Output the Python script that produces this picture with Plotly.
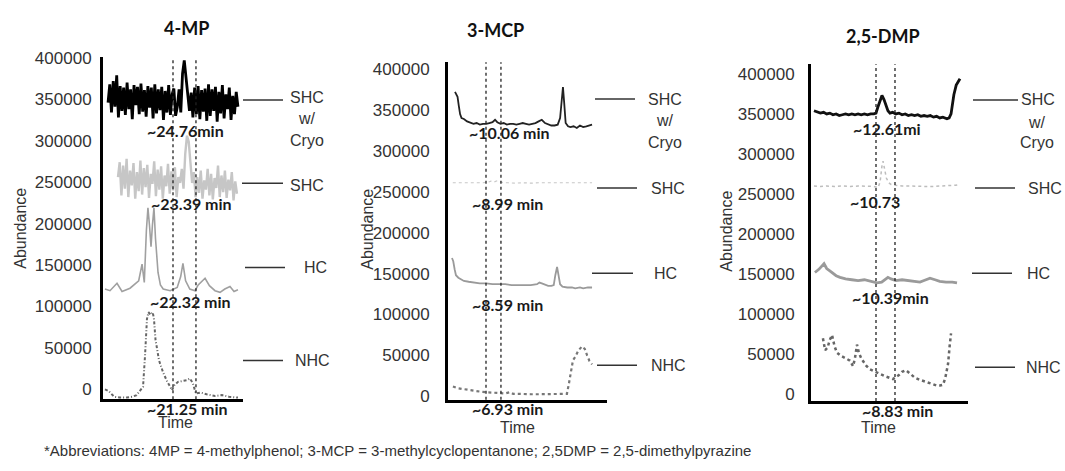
import numpy as np
import plotly.graph_objects as go

# ---------------- data (abundance in thousands, time in relative units 0-100) ----------------
TICK_VALS = [0, 50, 100, 150, 200, 250, 300, 350, 400]
TICK_TEXT = ["0", "50000", "100000", "150000", "200000", "250000", "300000", "350000", "400000"]

# Panel 1: 4-MP
mp4_cryo = [346, 368, 334, 372, 341, 379, 328, 366, 336, 364, 331, 370, 338, 362, 326, 367, 343, 365,
            332, 369, 335, 361, 329, 366, 340, 364, 327, 368, 333, 362, 337, 365, 325, 360, 334, 367,
            331, 356, 363, 330, 341, 362, 334, 381, 397, 374, 351, 336, 358, 328, 364, 332, 366, 326,
            361, 335, 363, 324, 368, 330, 362, 336, 365, 323, 359, 333, 367, 327, 356, 338, 364, 325,
            354, 332, 359, 341]
mp4_cryo_span = [3.6, 96.4]
mp4_shc = [256, 274, 234, 270, 242, 278, 232, 264, 246, 273, 230, 262, 239, 276, 235, 267, 244, 271,
           231, 260, 248, 275, 233, 265, 241, 269, 230, 258, 245, 272, 236, 263, 240, 268, 232, 256,
           249, 266, 242, 284, 306, 299, 274, 249, 262, 232, 256, 237, 264, 230, 252, 241, 266, 234,
           260, 229, 255, 243, 270, 232, 258, 238, 264, 231, 253, 240, 262, 228, 251, 236]
mp4_shc_span = [10.7, 95.7]
mp4_hc_t = [1.4, 5, 10, 13.6, 19.3, 23, 25.5, 27.9, 29.5, 31, 32.1, 33.2, 34.3, 35.3, 36.4, 37.5, 39.3,
            41, 43, 48, 53, 55.5, 57.1, 59, 62, 65.7, 68, 72.9, 76, 80, 83.6, 87, 90.7, 93.6, 96.4]
mp4_hc = [121, 119, 128, 118, 122, 127, 131, 151, 129, 192, 219, 198, 172, 198, 219, 182, 141,
          126, 121, 119, 123, 136, 152, 131, 121, 119, 126, 134, 125, 119, 117, 121, 124, 118, 120]
mp4_nhc_t = [1.4, 4, 8, 12, 17, 21, 24, 26.5, 28.6, 30, 31.4, 32.5, 34, 35.5, 36.4, 37.5, 40, 43, 45.7,
             49.3, 51, 53.6, 57, 60, 62, 64, 66.4, 70, 74, 80, 85, 90, 96.4]
mp4_nhc = [0, -2, -9, -10, -10, -9, -7, -2, 3, 40, 85, 93, 90, 93, 85, 60, 35, 20, 10,
           -1, 5, 9, 10, 11, 13, 8, -5, -4, -6, -8, -7, -9, -10]
mp4_windows = [50.0, 66.4]

# Panel 2: 3-MCP
mcp_cryo_t = [4.4, 5.2, 6, 6.8, 7.6, 8.5, 10, 12, 14, 16, 18, 20, 22, 24, 26, 28, 29.6, 31, 33, 35, 37,
              39, 41, 43, 45, 47, 49, 51, 53, 55, 57, 59, 61, 63, 65, 67, 69, 70.5, 71.5, 72.3, 73.1,
              74, 75.5, 77, 79, 81, 83, 85, 87, 89, 90.6]
mcp_cryo = [372, 368, 366, 355, 345, 340, 339, 336, 334, 333, 334, 332, 333, 333, 334, 335, 338, 335,
            333, 334, 332, 333, 333, 332, 333, 334, 333, 332, 333, 334, 336, 338, 334, 332, 331, 331,
            332, 340, 360, 378, 358, 334, 330, 329, 330, 328, 331, 329, 330, 331, 332]
mcp_shc_t = [3, 8, 13, 18, 22, 25, 27, 29, 31, 33, 35, 38, 42, 47, 52, 57, 62, 67, 72, 77, 82, 87, 90.6]
mcp_shc = [261, 261, 260.5, 261, 261, 261.5, 263, 262, 263.5, 262, 261, 261, 260.5, 261, 260.5, 261,
           261, 260.5, 261, 261, 260.5, 261, 261]
mcp_hc_t = [2.5, 3.3, 4.2, 5, 6.5, 8, 10, 13, 16, 20, 24, 28, 32, 36, 40, 44, 48, 52, 56, 57.5, 59, 61,
            63, 65, 66.5, 67.5, 68.6, 69.5, 70.5, 72, 75, 78, 80, 83, 85, 88, 90.6]
mcp_hc = [169, 165, 155, 148, 145, 143, 141, 140, 139, 138, 138, 137, 137, 137, 136, 136, 136, 136,
          137, 139, 138, 136, 135, 135, 136, 148, 158, 148, 137, 134, 133, 133, 132, 133, 132, 133, 133]
mcp_nhc_t = [3.1, 6, 9, 12, 15, 18, 21, 24, 27, 30, 33, 36, 39, 41, 44, 48, 52, 56, 60, 64, 68, 72,
             74.8, 76, 77.5, 78.6, 80, 82, 84.3, 86, 87.5, 89, 90.6]
mcp_nhc = [12, 10, 9, 8, 7.5, 6.5, 5.5, 5, 4.5, 4, 4, 3.5, 5, 3, 3, 2.5, 2.5, 2.5, 2.5, 2.5, 2.5, 2.5,
           3, 15, 35, 44, 48, 56, 61, 58, 50, 43, 39]
mcp_windows = [23.9, 33.3]

# Panel 3: 2,5-DMP
dmp_cryo_t = [1.9, 4, 6, 8, 10, 12, 14, 16, 18, 20, 22, 24, 26, 28, 30, 32, 34, 36, 38, 40, 41.4, 42.5,
              43.7, 45.2, 46.5, 48, 49, 50.3, 52, 54, 56, 58, 60, 62, 64, 66, 68, 70, 72, 74, 76, 78,
              80, 82, 84, 86.6, 88, 89.2, 90, 91, 92.5, 93.8, 94.9]
dmp_cryo = [354, 352, 351, 352, 350, 351, 349, 350, 348, 349, 350, 349, 350, 349, 350, 349, 350, 349,
            350, 350, 351, 358, 366, 373, 368, 360, 354, 351, 352, 350, 351, 349, 350, 348, 349, 348,
            349, 347, 348, 347, 348, 346, 347, 345, 346, 344, 345, 350, 360, 374, 386, 391, 394]
dmp_shc_t = [1.9, 6, 10, 15, 20, 25, 30, 35, 40, 42.7, 44, 45.2, 45.9, 46.7, 48, 49.5, 51, 54, 58, 63,
             68, 73, 78, 83, 88, 92, 94.9]
dmp_shc = [260, 259.5, 260, 259.5, 260, 259.5, 260, 259.5, 259.5, 258, 265, 285, 291, 283, 270, 264,
           262, 261, 260, 260, 259.5, 259.5, 259.5, 260, 260, 261, 262]
dmp_hc_t = [2.5, 5, 8.3, 10, 12, 14, 16, 18.5, 22, 26, 30, 34, 38, 42, 45, 47, 49, 51, 54, 58, 62, 66,
            69.4, 72, 75.8, 79, 82, 86, 90, 93]
dmp_hc = [152, 156, 163, 157, 154, 151, 148, 146, 144, 143, 142, 143, 141, 139, 140, 143, 146, 144,
          142, 143, 142, 141, 140, 142, 145, 143, 141, 140, 140, 139]
dmp_nhc_t = [7.6, 9, 10.5, 12, 13.4, 15, 16.5, 19, 22, 24.8, 26.8, 28, 29.3, 30.5, 32, 35, 37.6, 41,
             43.9, 48, 52.2, 56, 58, 60.5, 63, 66, 69.4, 73, 77, 80, 82.2, 84.1, 85.5, 86.5, 87.3,
             88.3, 89.2]
dmp_nhc = [70, 55, 58, 68, 74, 60, 52, 48, 45, 42, 35, 45, 62, 52, 45, 36, 31, 28, 25, 22, 19, 24, 28,
           30, 26, 21, 18, 16, 13, 11, 11, 12, 20, 30, 38, 60, 76]
dmp_windows = [41.4, 53.5]

titles = ["4-MP", "3-MCP", "2,5-DMP"]

# ---------------- figure ----------------
W, H = 1065, 471


def px(x):
    return x / W


def py(y):
    return 1 - y / H


fig = go.Figure()


def add_line(t, v, ax, color, width, dash="solid"):
    fig.add_trace(go.Scatter(x=t, y=v, mode="lines", xaxis=ax[0], yaxis=ax[1],
                             line=dict(color=color, width=width, dash=dash),
                             hoverinfo="skip", showlegend=False))


# panel 1
a1 = ("x", "y")
add_line(np.linspace(*mp4_shc_span, len(mp4_shc)), mp4_shc, a1, "#c6c6c6", 2.4)
add_line(np.linspace(*mp4_cryo_span, len(mp4_cryo)), mp4_cryo, a1, "#000000", 2.8)
add_line(mp4_hc_t, mp4_hc, a1, "#a0a0a0", 1.6)
add_line(mp4_nhc_t, mp4_nhc, a1, "#666666", 2, "3px,2px,1px,2px")
# panel 2
a2 = ("x2", "y2")
add_line(mcp_shc_t, mcp_shc, a2, "#c8c8c8", 1.2, "dot")
add_line(mcp_cryo_t, mcp_cryo, a2, "#222222", 1.8)
add_line(mcp_hc_t, mcp_hc, a2, "#9a9a9a", 1.8)
add_line(mcp_nhc_t, mcp_nhc, a2, "#777777", 2.2, "dot")
# panel 3
a3 = ("x3", "y3")
add_line(dmp_shc_t, dmp_shc, a3, "#bdbdbd", 1.5, "dot")
add_line(dmp_cryo_t, dmp_cryo, a3, "#111111", 2.8)
add_line(dmp_hc_t, dmp_hc, a3, "#9a9a9a", 2.8)
add_line(dmp_nhc_t, dmp_nhc, a3, "#666666", 2.5, "dot")

TICKFONT = dict(family="Liberation Sans, Arial", size=17, color="#333333")


def xax(left, right):
    return dict(domain=[px(left), px(right)], range=[0, 100], showline=True, linecolor="black",
                linewidth=3, showticklabels=False, ticks="", showgrid=False, zeroline=False,
                fixedrange=True)


def yax(top, bottom, rng, standoff, anchor):
    return dict(domain=[py(bottom), py(top)], range=rng, tickvals=TICK_VALS, ticktext=TICK_TEXT,
                showline=True, linecolor="black", linewidth=3, ticks="", showgrid=False,
                zeroline=False, tickfont=TICKFONT, ticklabelstandoff=standoff, anchor=anchor)


layout = dict(
    width=W, height=H, margin=dict(l=0, r=0, t=0, b=0),
    paper_bgcolor="white", plot_bgcolor="white", showlegend=False,
    xaxis=dict(xax(103, 243), anchor="y"),
    yaxis=yax(50, 403, [-11.9, 400.5], 5, "x"),
    xaxis2=dict(xax(448, 607), anchor="y2"),
    yaxis2=yax(55, 403.5, [-4.1, 408.3], 12, "x2"),
    xaxis3=dict(xax(811, 968), anchor="y3"),
    yaxis3=yax(57, 405, [-8.5, 412.1], 10, "x3"),
)
fig.update_layout(**layout)

shapes = []
# retention windows (dashed verticals)
for xr, yr, wins in (("x", "y domain", mp4_windows), ("x2", "y2 domain", mcp_windows),
                     ("x3", "y3 domain", dmp_windows)):
    for w in wins:
        shapes.append(dict(type="line", xref=xr, yref=yr, x0=w, x1=w, y0=0, y1=1,
                           line=dict(color="#222222", width=1.3, dash="dot")))

# trace-label leader lines
leaders = [(243, 283, 94), (242, 283, 180), (245, 285, 267), (243, 283, 363),
           (595, 635, 93), (597, 637, 185), (592, 633, 273), (597, 637, 368),
           (973, 1018, 94), (975, 1015, 185), (972, 1012, 273), (975, 1015, 370)]
for x0, x1, y in leaders:
    shapes.append(dict(type="line", xref="paper", yref="paper", x0=px(x0), x1=px(x1),
                       y0=py(y), y1=py(y), line=dict(color="#333333", width=1.5)))
fig.update_layout(shapes=shapes)

anns = []


def ann(text, x, y, size=16, bold=False, family="Liberation Sans, Arial", color="#333333",
        angle=0, xanchor="center"):
    anns.append(dict(text=f"<b>{text}</b>" if bold else text, x=px(x), y=py(y), xref="paper",
                     yref="paper", showarrow=False, xanchor=xanchor, yanchor="middle",
                     textangle=angle, font=dict(family=family, size=size, color=color)))


# titles
for t, (x, y) in zip(titles, [(186, 20), (495, 22), (883, 28)]):
    ann(t, x, y, size=18, bold=True, family="Lato, Open Sans", color="#111111")

# row labels
row_labels = [("SHC", 307, 91), ("w/", 307, 113), ("Cryo", 307, 136), ("SHC", 307, 182),
              ("HC", 315, 267), ("NHC", 312, 363),
              ("SHC", 665, 93), ("w/", 665, 115), ("Cryo", 665, 138), ("SHC", 668, 185),
              ("HC", 665, 273), ("NHC", 668, 368),
              ("SHC", 1038, 93), ("w/", 1037, 117), ("Cryo", 1037, 138), ("SHC", 1045, 185),
              ("HC", 1038, 273), ("NHC", 1043, 370)]
for t, x, y in row_labels:
    ann(t, x, y, size=16)

# retention-time labels
rt_labels = [("~24.76min", 185, 125), ("~23.39 min", 191, 201), ("~22.32 min", 190, 302),
             ("~21.25 min", 187, 413),
             ("~10.06 min", 510, 128), ("~8.99 min", 507, 201), ("~8.59 min", 507, 305),
             ("~6.93 min", 507, 413),
             ("~12.61mi", 887, 123), ("~10.73", 875, 199), ("~10.39min", 890, 298),
             ("~8.83 min", 897, 415)]
for t, x, y in rt_labels:
    ann(t, x, y, size=16, bold=True, family="Lato, Open Sans", color="#1a1a1a")

# axis titles
for x, y in [(175, 427), (517, 432), (878, 432)]:
    ann("Time", x, y, size=16)
for x, y in [(21, 227), (368, 228), (727, 230)]:
    ann("Abundance", x, y, size=16, angle=-90)

ann("*Abbreviations: 4MP = 4-methylphenol; 3-MCP = 3-methylcyclopentanone; 2,5DMP = 2,5-dimethylpyrazine",
    42, 456, size=15, xanchor="left")

fig.update_layout(annotations=anns)
fig.write_html("out.html")
